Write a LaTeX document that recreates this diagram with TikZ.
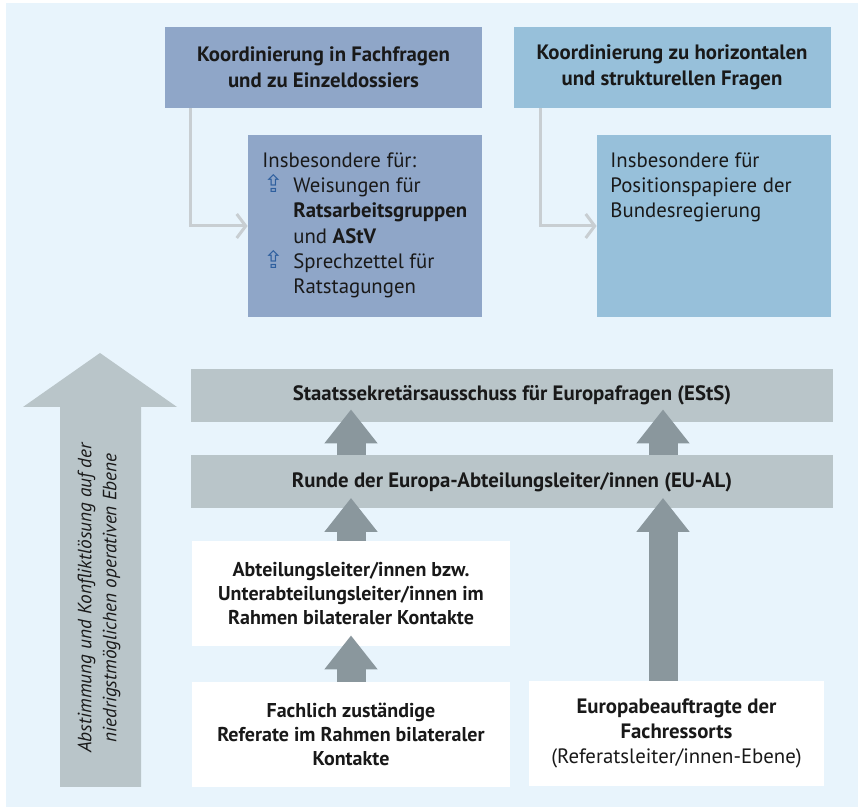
\documentclass[tikz,border=0pt]{standalone}
\usepackage{fontspec}
\setmainfont{PT Sans}
\newfontfamily\symfont{DejaVu Sans}
\usetikzlibrary{arrows.meta}
\definecolor{bgBlue}{HTML}{E8F4FC}
\definecolor{fachBlue}{HTML}{8FA6C8}
\definecolor{strukBlue}{HTML}{97C0DA}
\definecolor{bandGray}{HTML}{B9C5C9}
\definecolor{arrowGray}{HTML}{8A979D}
\definecolor{feedGray}{HTML}{C8CED2}
\definecolor{iconBlue}{HTML}{2E5F9E}
\newcommand{\bul}{\hspace{0.5pt}{\symfont\color{iconBlue}\fontsize{12}{12}\selectfont ⇪}}
\begin{document}
\begin{tikzpicture}[x=0.5pt, y=-0.5pt, font=\fontsize{10.4}{12.6}\selectfont, text=black!90,
    headStyle/.style={rectangle, minimum width=158.5pt, minimum height=40.5pt, inner sep=0pt, align=center, font=\fontsize{10.4}{13}\selectfont\bfseries},
    detailStyle/.style={rectangle, minimum width=117pt, minimum height=91pt, inner sep=0pt},
    detailText/.style={anchor=north west, inner sep=0pt, align=left},
    bandStyle/.style={rectangle, fill=bandGray, minimum width=321pt, minimum height=26.5pt, inner sep=0pt, font=\fontsize{10.4}{12.6}\selectfont\bfseries},
    levelStyle/.style={rectangle, fill=white, minimum height=52.5pt, inner sep=0pt, align=center, font=\fontsize{10.4}{12.3}\selectfont},
    upArrow/.style={arrowGray, line width=14.5pt, -{Triangle[width=25.5pt, length=17pt]}},
    feedLine/.style={feedGray, line width=1.5pt, -{Straight Barb[length=4.5pt, width=12pt]}}]
    \useasboundingbox (0,0) rectangle (858,807);
    \fill[bgBlue] (6,3) rectangle (858,807);

    % Koordinierungsebenen
    \node[headStyle, fill=fachBlue](fach) at (323.5, 67.5) {Koordinierung in Fachfragen\\und zu Einzeldossiers};
    \node[headStyle, fill=strukBlue](struk) at (672, 67.5) {Koordinierung zu horizontalen\\und strukturellen Fragen};
    \node[detailStyle, fill=fachBlue](fachDetail) at (365, 226) {};
    \node[detailStyle, fill=strukBlue](strukDetail) at (714, 226) {};
    \node[detailText](fachDetailText) at (262, 149) {%
        \renewcommand{\arraystretch}{1}%
        \begin{tabular}{@{}p{15.5pt}@{}l@{}}
            \multicolumn{2}{@{}l@{}}{Insbesondere für:}\\
            \bul & Weisungen für\\
                 & \textbf{Ratsarbeitsgruppen}\\
                 & und \textbf{AStV}\\
            \bul & Sprechzettel für\\
                 & Ratstagungen
        \end{tabular}};
    \node[detailText](strukDetailText) at (610, 149) {\strut Insbesondere für\\Positionspapiere der\\Bundesregierung};

    \draw[feedLine] ([xshift=13pt]fach.south west) |- (fachDetail.west);
    \draw[feedLine] ([xshift=13.5pt]struk.south west) |- (strukDetail.west);

    % Gremien
    \node[bandStyle](ests) at (512, 395.5) {Staatssekretärsausschuss für Europafragen (EStS)};
    \node[bandStyle](eual) at (512, 482) {Runde der Europa-Abteilungsleiter/innen (EU-AL)};
    \node[levelStyle, minimum width=159pt, font=\bfseries](abt) at (351, 593.5) {Abteilungsleiter/innen bzw.\\Unterabteilungsleiter/innen im\\Rahmen bilateraler Kontakte};
    \node[levelStyle, minimum width=159pt, font=\bfseries](ref) at (351, 734.5) {Fachlich zuständige\\Referate im Rahmen bilateraler\\Kontakte};
    \node[levelStyle, minimum width=147.5pt](beauf) at (676.5, 733.5) {\textbf{Europabeauftragte der}\\\textbf{Fachressorts}\\(Referatsleiter/innen-Ebene)};
    \coordinate (rightCol) at (663, 0);

    \draw[upArrow] (eual.north -| abt) -- ([yshift=6.5pt]ests.south -| abt);
    \draw[upArrow] (eual.north -| rightCol) -- ([yshift=6.5pt]ests.south -| rightCol);
    \draw[upArrow] (abt.north) -- ([yshift=5.5pt]eual.south -| abt);
    \draw[upArrow] (beauf.north -| rightCol) -- ([yshift=5.5pt]eual.south -| rightCol);
    \draw[upArrow] (ref.north) -- ([yshift=5.5pt]abt.south);

    % Pfeil links
    \fill[bandGray] (100,353) -- (177,407) -- (141,407) -- (141,787) -- (60,787) -- (60,407) -- (23,407) -- cycle;
    \node[rotate=90, align=center, font=\fontsize{9.6}{12.5}\selectfont\itshape](ebene) at (99, 598) {Abstimmung und Konfliktlösung auf der\\niedrigstmöglichen operativen Ebene};
\end{tikzpicture}
\end{document}
